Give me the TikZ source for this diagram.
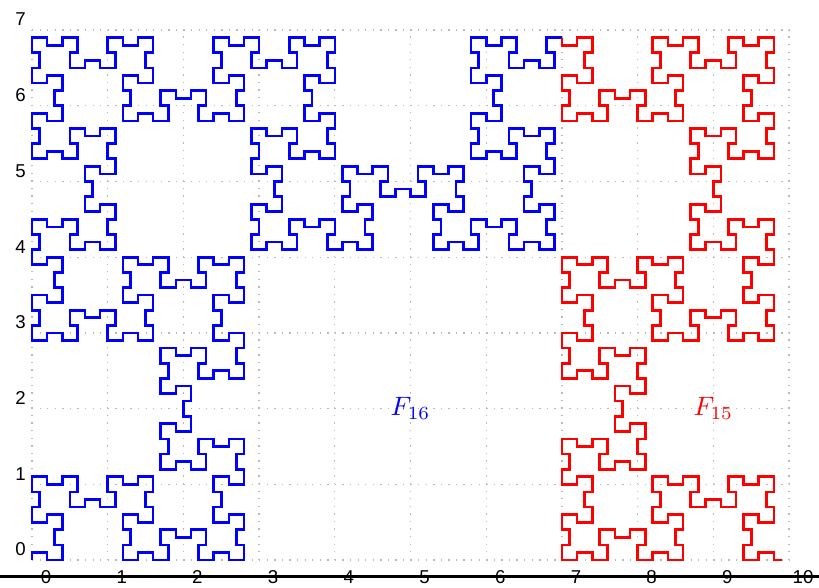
\documentclass[tikz,border=0pt]{standalone}
\usepackage{fontspec}
\newfontfamily\labfont{Liberation Sans}
% Fibonacci word S_15 (length 1597); first 987 letters are S_14
\def\wa{0}\def\wb{01}
\newcount\ii \ii=0
\loop \edef\wc{\wb\wa}\let\wa\wb\let\wb\wc \advance\ii1 \ifnum\ii<14 \repeat
\newcount\px \newcount\py \newcount\dir \newcount\kk
\def\bluep{}\def\redp{}
\def\addpt{%
  \ifnum\kk>987 \else \edef\bluep{\bluep--(\the\px,\the\py)}\fi
  \ifnum\kk=987 \edef\redp{(\the\px,\the\py)}\fi
  \ifnum\kk>987 \edef\redp{\redp--(\the\px,\the\py)}\fi}
\def\walk#1{%
  \ifx\relax#1\else
    \advance\kk1
    \ifcase\dir \advance\py1 \or \advance\px1 \or \advance\py-1 \or \advance\px-1 \fi
    \if0#1%
      \ifodd\kk \advance\dir1 \else \advance\dir3 \fi
      \ifnum\dir>3 \advance\dir-4 \fi
      \addpt
    \else
      \ifnum\kk=987 \addpt\fi
    \fi
    \expandafter\walk
  \fi}
\expandafter\walk\wb\relax
\addpt
\tikzset{
  gridline/.style={gray!55, line width=0.5pt, dash pattern=on 0.5pt off 2.345pt},
  fibo/.style={line width=1pt},
  ticklab/.style={font=\labfont\fontsize{7}{8}\selectfont, inner sep=0pt},
  flabel/.style={font=\fontsize{10.4}{12}\selectfont, inner sep=0pt}
}
\begin{document}
\begin{tikzpicture}
\useasboundingbox (-0.423,-0.357) rectangle (10.396,7.398);
\draw[gridline] (0,0) grid (10,7);
\begin{scope}[x=0.1cm,y=0.1cm]
\draw[fibo, blue] (0,0) \bluep;
\draw[fibo, red] \redp;
\end{scope}
\foreach \i in {0,...,10} \node[ticklab] (xl\i) at (\i+0.185,-0.22) {\i};
\foreach \i in {0,...,7} \node[ticklab] (yl\i) at (-0.15,\i+0.14) {\i};
\draw[line width=1pt] (-0.5,-0.22) -- (10.5,-0.22);
\node[flabel, text=blue] (f16) at (5,2) {$F_{16}$};
\node[flabel, text=red] (f15) at (9,2) {$F_{15}$};
\end{tikzpicture}
\end{document}
